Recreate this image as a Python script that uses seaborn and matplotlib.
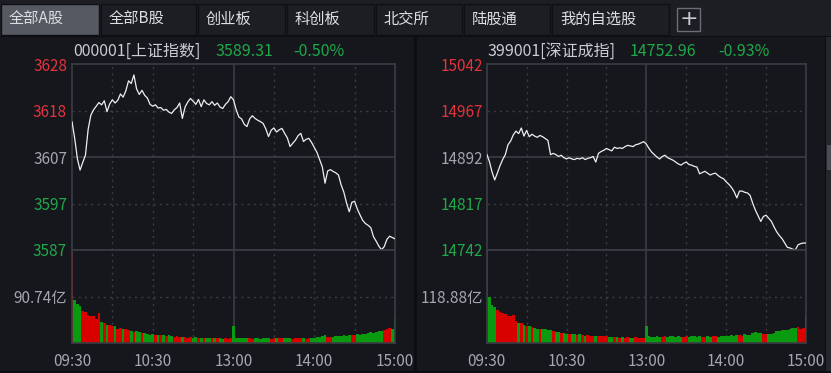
import numpy as np
import pandas as pd
import matplotlib
matplotlib.use("Agg")
import matplotlib.pyplot as plt
from matplotlib.patches import Rectangle
import seaborn as sns

W, H = 831, 373
DPI = 100

# ---- data -------------------------------------------------------------
tab_labels = ["全部A股", "全部B股", "创业板", "科创板", "北交所", "陆股通", "我的自选股"]

time_labels = ["09:30", "10:30", "13:00", "14:00", "15:00"]
time_label_minutes = [0, 60, 120, 180, 240]
minutes = list(range(0, 241, 2))

# 上证指数
sh_title = "000001[上证指数]"
sh_last = "3589.31"
sh_pct = "-0.50%"
sh_prev_close = 3607.35
sh_half_range = 20.5
sh_vol_half = 90.74
sh_price = [
    3615.2, 3611.5, 3607.0, 3604.5, 3606.2, 3607.8, 3613.5, 3616.6, 3617.8, 3618.6,
    3619.4, 3618.9, 3619.8, 3617.4, 3619.1, 3620.0, 3619.3, 3619.9, 3621.3, 3620.6,
    3622.0, 3624.2, 3623.6, 3625.5, 3622.4, 3621.2, 3622.1, 3621.0, 3620.4, 3619.0,
    3618.6, 3618.9, 3618.2, 3618.3, 3617.7, 3617.9, 3617.3, 3617.0, 3617.8, 3618.3,
    3619.3, 3615.9, 3618.4, 3619.5, 3620.3, 3619.7, 3619.0, 3620.1, 3618.5, 3620.0,
    3619.2, 3618.9, 3619.6, 3618.8, 3619.3, 3618.4, 3618.1, 3619.0, 3619.6, 3620.7,
    3620.0, 3617.8, 3616.2, 3615.8, 3614.6, 3614.1, 3615.8, 3616.5, 3615.9, 3615.5,
    3615.2, 3614.8, 3613.6, 3611.9, 3613.3, 3613.8, 3612.9, 3613.4, 3613.7, 3612.6,
    3611.6, 3609.7, 3610.4, 3611.1, 3612.1, 3612.6, 3610.8, 3611.3, 3611.5, 3610.6,
    3609.5, 3608.4, 3606.8, 3605.2, 3601.6, 3604.3, 3604.6, 3604.2, 3603.9, 3603.4,
    3601.2, 3599.6, 3597.2, 3595.3, 3597.4, 3597.6, 3595.9, 3594.6, 3593.4, 3592.7,
    3592.3, 3591.8, 3589.8, 3588.8, 3587.7, 3586.9, 3587.6, 3589.2, 3589.9, 3589.6,
    3589.31,
]
sh_vol = [
    181.48, 84, 76, 72, 62, 60, 55, 53, 52, 47,
    58, 41, 40, 36, 35, 34, 33, 28, 29, 27,
    28, 26, 24, 22, 23, 21, 20, 19, 17, 16,
    17, 16, 15, 16, 15, 14, 15, 13, 12, 13,
    11, 12, 11, 10, 11, 10, 11, 10, 9, 10,
    10, 9, 10, 9, 9, 10, 8, 9, 8, 9,
    34, 10, 9, 10, 9, 10, 9, 8, 10, 9,
    8, 9, 10, 9, 8, 9, 10, 9, 10, 9,
    10, 9, 8, 10, 9, 10, 9, 8, 10, 9,
    10, 11, 12, 13, 15, 12, 11, 12, 13, 14,
    13, 15, 14, 16, 15, 16, 17, 16, 18, 17,
    19, 21, 20, 22, 24, 23, 25, 27, 30, 28,
    48,
]

# 深证成指
sz_title = "399001[深证成指]"
sz_last = "14752.96"
sz_pct = "-0.93%"
sz_prev_close = 14891.9
sz_half_range = 150.2
sz_vol_half = 118.88
sz_price = [
    14897, 14885, 14868, 14855, 14866, 14878, 14888, 14896, 14912, 14918,
    14928, 14934, 14930, 14939, 14926, 14935, 14925, 14929, 14926, 14924,
    14927, 14925, 14922, 14919, 14896, 14898, 14896, 14893, 14895, 14891,
    14889, 14891, 14889, 14888, 14890, 14889, 14891, 14888, 14890, 14891,
    14893, 14884, 14898, 14901, 14903, 14906, 14904, 14902, 14908, 14906,
    14907, 14906, 14909, 14911, 14910, 14909, 14912, 14913, 14915, 14917,
    14913, 14906, 14900, 14896, 14892, 14889, 14893, 14895, 14891, 14889,
    14887, 14884, 14881, 14879, 14882, 14884, 14880, 14879, 14877, 14876,
    14865, 14867, 14869, 14866, 14863, 14865, 14866, 14862, 14859, 14857,
    14852, 14848, 14843, 14836, 14826, 14837, 14837, 14835, 14834, 14830,
    14817, 14806, 14797, 14788, 14796, 14798, 14793, 14788, 14779, 14771,
    14765, 14760, 14753, 14746, 14745, 14743, 14742, 14750, 14752, 14753,
    14752.96,
]
sz_vol = [
    237.76, 118, 97, 92, 85, 80, 77, 74, 70, 69,
    72, 55, 51, 50, 47, 44, 43, 40, 38, 37,
    36, 37, 35, 34, 33, 30, 28, 27, 26, 25,
    23, 24, 22, 23, 21, 22, 20, 19, 20, 18,
    19, 18, 19, 17, 18, 17, 16, 15, 16, 15,
    14, 15, 14, 15, 13, 14, 15, 13, 14, 13,
    43, 17, 16, 15, 17, 16, 15, 17, 16, 18,
    17, 16, 17, 16, 15, 17, 16, 18, 17, 16,
    17, 16, 15, 17, 16, 18, 17, 16, 17, 18,
    19, 18, 20, 19, 21, 20, 19, 22, 21, 20,
    26, 27, 25, 26, 23, 22, 24, 23, 25, 30,
    31, 33, 32, 34, 35, 38, 39, 40, 36, 38,
    72,
]

# ---- style -------------------------------------------------------------
BG = "#15171c"
FIG_BG = "#0c0d10"
FRAME = "#3a3d44"
GRID = "#3a3d44"
LINE = "#eeeeee"
RED_BAR = "#d90000"
GREEN_BAR = "#0a9a10"
RED_TXT = "#e3333d"
GREEN_TXT = "#1fa84a"
GREY_TXT = "#a2a7ae"
TITLE_TXT = "#c9cdd3"

sns.set_theme(style="dark")
plt.rcParams["font.family"] = ["Noto Sans CJK SC", "DejaVu Sans"]
plt.rcParams["axes.unicode_minus"] = False

fig = plt.figure(figsize=(W / DPI, H / DPI), dpi=DPI)
fig.patch.set_facecolor(FIG_BG)


def frac_rect(x0, y0, x1, y1):
    return [x0 / W, 1 - y1 / H, (x1 - x0) / W, (y1 - y0) / H]


def fx(x):
    return x / W


def fy(y):
    return 1 - y / H


def add_rect(x0, y0, x1, y1, fc, ec="none", lw=0):
    fig.patches.append(Rectangle((fx(x0), fy(y1)), (x1 - x0) / W, (y1 - y0) / H,
                                 transform=fig.transFigure, facecolor=fc,
                                 edgecolor=ec, linewidth=lw, zorder=-5))


# ---- tab bar -------------------------------------------------------------
add_rect(0, 0, W, 36, "#1c1e23")
tab_edges = [0, 100, 197, 286, 375, 463, 551, 670]
for i, lab in enumerate(tab_labels):
    x0, x1 = tab_edges[i], tab_edges[i + 1]
    fc = "#555961" if i == 0 else "#1c1e23"
    add_rect(x0 + 1, 4, x1 - 1, 35, fc, ec="#0f1013", lw=1)
    fig.text(fx(x0 + 9), fy(19.5), lab, color="#dcdee2", fontsize=11,
             ha="left", va="center")
add_rect(677, 8, 700, 31, "#1c1e23", ec="#6a6e75", lw=1)
fig.text(fx(688.5), fy(19), "+", color="#c8cbd0", fontsize=16,
         ha="center", va="center", family="DejaVu Sans")

# panel backgrounds and scrollbar
add_rect(0, 37, 414, 371, BG)
add_rect(417, 37, 825, 371, BG)
add_rect(826, 37, 831, 371, "#24262b")
add_rect(827, 145, 831, 170, "#4a4d53")


def draw_panel(x0, x1, title, last, pct, title_xs, prev_close, half_range,
               price, vol, vol_half, label_right):
    y_top, y_mid, y_bot = 64.3, 250.0, 343.0

    # header
    fig.text(fx(title_xs[0]), fy(51), title, color=TITLE_TXT, fontsize=11.5,
             ha="left", va="center")
    fig.text(fx(title_xs[1]), fy(51), last, color=GREEN_TXT, fontsize=11.5,
             ha="left", va="center")
    fig.text(fx(title_xs[2]), fy(51), pct, color=GREEN_TXT, fontsize=11.5,
             ha="left", va="center")

    ax = fig.add_axes(frac_rect(x0, y_top, x1, y_mid))
    axv = fig.add_axes(frac_rect(x0, y_mid, x1, y_bot))
    for a in (ax, axv):
        a.set_facecolor(BG)
        a.set_xlim(0, 240)
        for s in a.spines.values():
            s.set_color(FRAME)
            s.set_linewidth(1.2)
        for m in (30, 60, 90, 150, 180, 210):
            a.axvline(m, color=GRID, lw=1, ls=(0, (1.5, 3)), zorder=1)
        a.axvline(120, color=FRAME, lw=1.2, zorder=1)
        a.grid(False)

    # price line
    df = pd.DataFrame({"minute": minutes, "price": price})
    sns.lineplot(data=df, x="minute", y="price", ax=ax, color=LINE,
                 linewidth=0.9, zorder=3)
    lo, hi = prev_close - half_range, prev_close + half_range
    ax.set_ylim(lo, hi)
    step = half_range / 2
    ticks = [prev_close + k * step for k in (2, 1, 0, -1, -2)]
    for t in (ticks[1], ticks[3]):
        ax.axhline(t, color=GRID, lw=1, ls=(0, (1.5, 3)), zorder=1)
    ax.axhline(prev_close, color=FRAME, lw=1.2, zorder=1)
    ax.set_yticks(ticks)
    ax.set_yticklabels([f"{t:.0f}" for t in ticks])
    colors = [RED_TXT, RED_TXT, GREY_TXT, GREEN_TXT, GREEN_TXT]
    for lab, c in zip(ax.get_yticklabels(), colors):
        lab.set_color(c)
    ax.tick_params(axis="y", length=0, pad=label_right, labelsize=11)
    ax.set_xticks([])
    ax.set_xlabel("")
    ax.set_ylabel("")

    # volume bars
    direction = ["up" if price[0] >= prev_close else "down"]
    direction += ["up" if price[i] >= price[i - 1] else "down"
                  for i in range(1, len(price))]
    dv = pd.DataFrame({"minute": minutes, "vol": vol, "dir": direction})
    sns.barplot(data=dv, x="minute", y="vol", hue="dir",
                palette={"up": RED_BAR, "down": GREEN_BAR},
                native_scale=True, dodge=False, width=1.0, saturation=1,
                linewidth=0, legend=False, ax=axv, zorder=2)
    axv.set_xlim(0, 240)
    axv.set_ylim(0, 2 * vol_half)
    axv.axhline(vol_half, color=GRID, lw=1, ls=(0, (1.5, 3)), zorder=1)
    axv.set_yticks([vol_half])
    axv.set_yticklabels([f"{vol_half:.2f}亿"])
    axv.tick_params(axis="y", length=0, pad=label_right, labelsize=11,
                    labelcolor=GREY_TXT)
    axv.set_xticks(time_label_minutes)
    axv.set_xticklabels(time_labels)
    axv.tick_params(axis="x", length=0, pad=7.5, labelsize=11,
                    labelcolor=GREY_TXT)
    axv.set_xlabel("")
    axv.set_ylabel("")


draw_panel(72, 395, sh_title, sh_last, sh_pct, (73, 215, 293),
           sh_prev_close, sh_half_range, sh_price, sh_vol, sh_vol_half, 3.5)
draw_panel(486.7, 806, sz_title, sz_last, sz_pct, (488, 630, 718),
           sz_prev_close, sz_half_range, sz_price, sz_vol, sz_vol_half, 2.5)

fig.savefig("out.png", dpi=DPI, facecolor=fig.get_facecolor())
